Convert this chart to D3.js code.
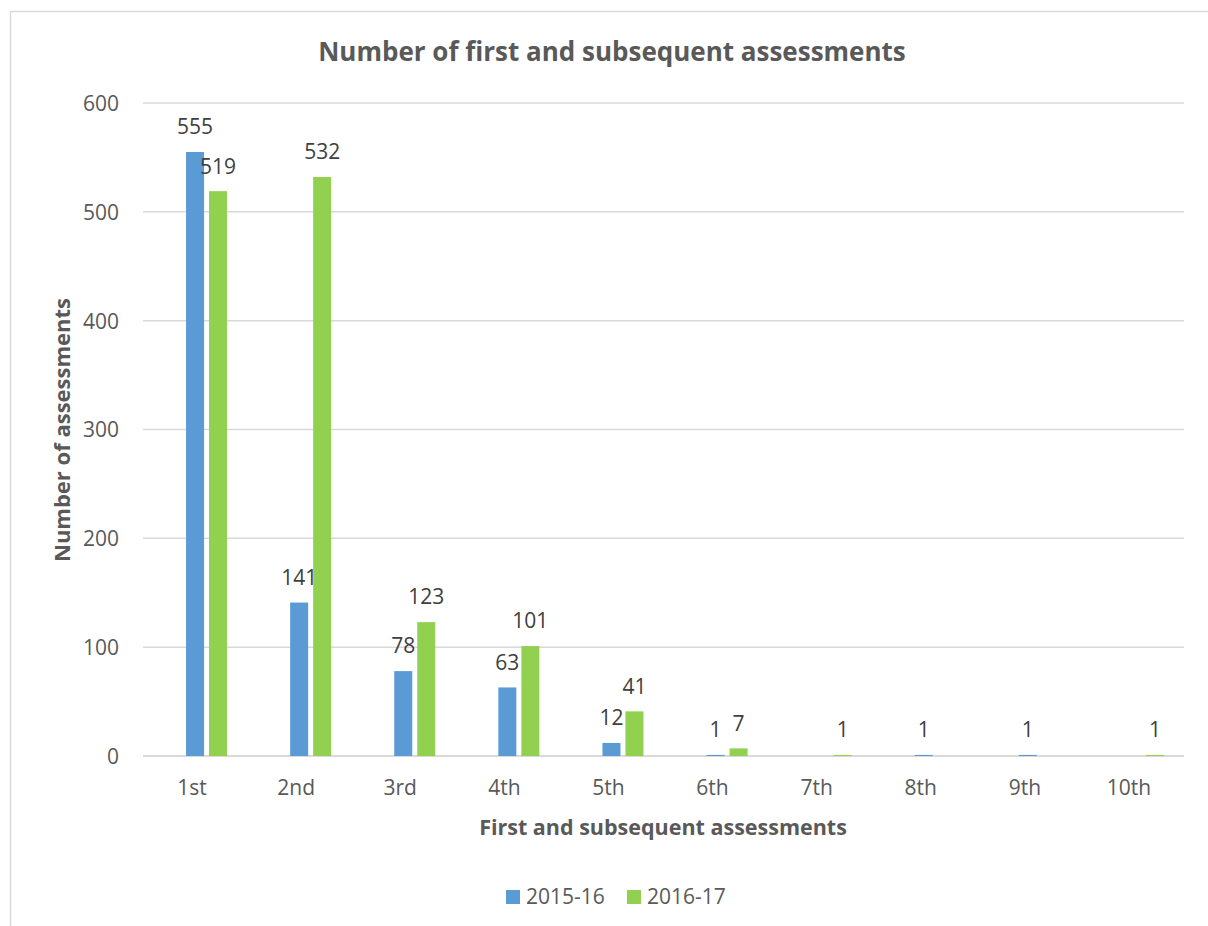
<!DOCTYPE html>
<html><head><meta charset="utf-8">
<script src="https://cdn.jsdelivr.net/npm/d3@7"></script>
<style>body{margin:0;background:#fff}svg{display:block}</style>
</head><body>
<svg id="c" width="1208" height="926"></svg>
<script>
const categories = ["1st","2nd","3rd","4th","5th","6th","7th","8th","9th","10th"];
const seriesNames = ["2015-16","2016-17"];
const values2015 = [555,141,78,63,12,1,null,1,1,null];
const values2016 = [519,532,123,101,41,7,1,null,null,1];
const yTicks = [0,100,200,300,400,500,600];
const colors = ["#5b9bd5","#92d050"];

(function(){
const svg = d3.select("#c");
const font = "'Open Sans', 'Liberation Sans', sans-serif";
const pLeft = 143, pRight = 1184, pTop = 103, pBottom = 756;

svg.append("rect").attr("x",10.5).attr("y",11.5).attr("width",1400).attr("height",1200)
  .attr("fill","#fff").attr("stroke","#d9d9d9").attr("stroke-width",1.5);

const x = d3.scaleBand().domain(categories).range([pLeft,pRight]).paddingInner(0).paddingOuter(0);
// three slots per category; the first slot is an empty series in the original
const slots = ["_", ...seriesNames];
const x1 = d3.scaleBand().domain(slots).range([0,x.bandwidth()]).paddingInner(5/23).paddingOuter(0.87);
const y = d3.scaleLinear().domain([0,600]).range([pBottom,pTop]);

// gridlines
svg.append("g").selectAll("line").data(yTicks).join("line")
  .attr("x1",pLeft).attr("x2",pRight).attr("y1",d=>y(d)).attr("y2",d=>y(d))
  .attr("stroke","#d9d9d9").attr("stroke-width",d=>d===0?2:1.5);

// y axis labels
const yAxis = d3.axisLeft(y).tickValues(yTicks).tickSize(0).tickPadding(0);
const gy = svg.append("g").attr("transform",`translate(${pLeft-24},0)`).call(yAxis);
gy.select(".domain").remove();
gy.selectAll("text").attr("font-family",font).attr("font-size",21).attr("fill","#595959").attr("dy","0.35em");

// x axis labels
const xAxis = d3.axisBottom(x).tickSize(0).tickPadding(0);
const gx = svg.append("g").attr("transform",`translate(-3,${pBottom+32})`).call(xAxis);
gx.select(".domain").remove();
gx.selectAll("text").attr("font-family",font).attr("font-size",21).attr("fill","#595959").attr("dy","0.35em");

const allSeries = [values2015, values2016];
allSeries.forEach((vals,si)=>{
  const key = seriesNames[si];
  const data = categories.map((c,i)=>({c, v: vals[i]})).filter(d=>d.v!==null);
  svg.append("g").selectAll("rect").data(data).join("rect")
    .attr("x",d=>x(d.c)+x1(key)).attr("width",x1.bandwidth())
    .attr("y",d=>y(d.v)).attr("height",d=>y(0)-y(d.v)).attr("fill",colors[si]);
  svg.append("g").selectAll("text").data(data).join("text")
    .attr("x",d=>x(d.c)+x1(key)+x1.bandwidth()/2).attr("y",d=>y(d.v)-25)
    .attr("text-anchor","middle").attr("dy","0.35em")
    .attr("font-family",font).attr("font-size",21).attr("fill","#404040")
    .text(d=>d.v);
});

// title
svg.append("text").attr("x",612).attr("y",52).attr("text-anchor","middle").attr("dy","0.35em")
  .attr("font-family",font).attr("font-size",26).attr("font-weight","bold").attr("fill","#595959")
  .text("Number of first and subsequent assessments");
// x title
svg.append("text").attr("x",663).attr("y",827).attr("text-anchor","middle").attr("dy","0.35em")
  .attr("font-family",font).attr("font-size",21.5).attr("font-weight","bold").attr("fill","#595959")
  .text("First and subsequent assessments");
// y title
svg.append("text").attr("transform","translate(62,430) rotate(-90)").attr("text-anchor","middle").attr("dy","0.35em")
  .attr("font-family",font).attr("font-size",22).attr("font-weight","bold").attr("fill","#595959")
  .text("Number of assessments");

// legend
const legX = [506, 627];
const lg = svg.append("g").selectAll("g").data(seriesNames).join("g")
  .attr("transform",(d,i)=>`translate(${legX[i]},890)`);
lg.append("rect").attr("width",14).attr("height",14).attr("fill",(d,i)=>colors[i]);
lg.append("text").attr("x",20).attr("y",7).attr("dy","0.35em")
  .attr("font-family",font).attr("font-size",21).attr("fill","#595959").text(d=>d);
})();
</script>
</body></html>
